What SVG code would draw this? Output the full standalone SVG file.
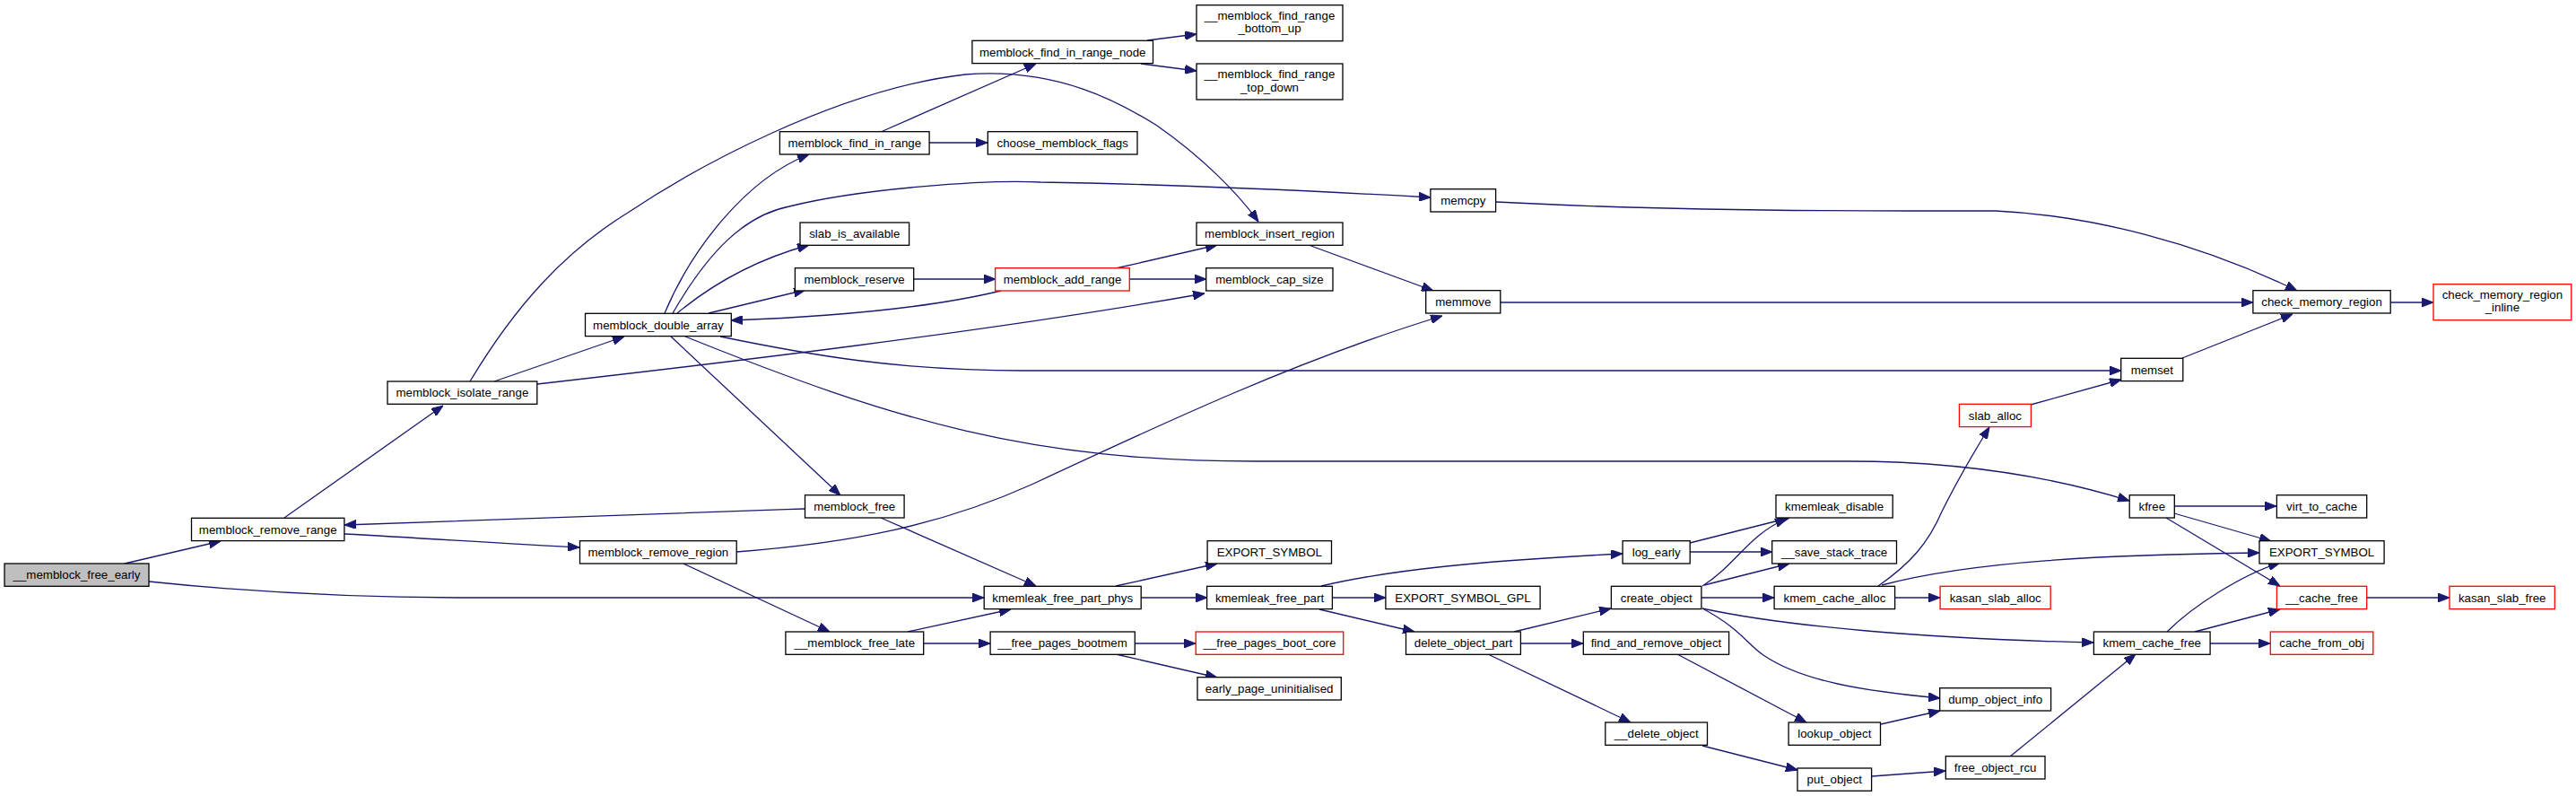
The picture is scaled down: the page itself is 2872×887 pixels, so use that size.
<svg xmlns="http://www.w3.org/2000/svg" width="2872" height="887" viewBox="0 0 2872 887">
<style>
.n rect{fill:#fff;stroke:#000;stroke-width:1.3}
.n.r rect{stroke:#f00}
.n.g rect{fill:#bfbfbf}
.n text{font-family:"Liberation Sans",Arial,sans-serif;font-size:13.3px;text-anchor:middle;fill:#000}
#edges path{fill:none;stroke:#191970;stroke-width:1.3;marker-end:url(#a)}
</style>
<defs>
<marker id="a" viewBox="0 0 13 10" refX="13" refY="5" markerWidth="13" markerHeight="10" markerUnits="userSpaceOnUse" orient="auto">
<path d="M0,0 L13,5 L0,10 z" fill="#191970" stroke="#191970" stroke-width="1"/>
</marker>
</defs>
<rect width="2872" height="887" fill="#fff"/>
<g id="edges">
<path d="M139,628 L246,603"/>
<path d="M166,648 C300,662 420,666 520,666 L1097,666"/>
<path d="M317,577 L494,452"/>
<path d="M384,595 C480,600 560,606 646,610"/>
<path d="M551,425 L696,375"/>
<path d="M524,425 C575,340 630,280 700,237 C770,190 930,100 1076,83 C1180,75 1250,115 1290,140 C1340,175 1380,215 1403,247"/>
<path d="M599,428 C800,405 1100,370 1343,327"/>
<path d="M741,349 C770,280 830,200 902,172"/>
<path d="M750,349 C790,280 830,240 880,230 C960,210 1100,200 1160,203 C1300,205 1450,212 1595,220"/>
<path d="M755,349 C790,320 840,290 902,273"/>
<path d="M790,349 L898,323"/>
<path d="M803,375 C900,395 1000,413 1140,413 L2365,413"/>
<path d="M764,375 C1000,470 1150,514 1400,514 L2060,514 C2200,514 2300,535 2374,558"/>
<path d="M748,375 L937,552"/>
<path d="M1019,311 L1110,311"/>
<path d="M1116,324 C1050,340 950,352 815,357"/>
<path d="M1244,299 L1357,273"/>
<path d="M1259,311 L1345,311"/>
<path d="M982,147 L1155,71"/>
<path d="M1036,159 L1101,159"/>
<path d="M1279,45 L1334,38"/>
<path d="M1272,71 L1334,79"/>
<path d="M1459,273 L1598,324"/>
<path d="M1668,225 C1800,232 1950,235 2130,235 L2225,235 C2330,240 2450,270 2561,324"/>
<path d="M1673,337 L2512,337"/>
<path d="M2433,399 L2556,350"/>
<path d="M2665,337 L2713,337"/>
<path d="M897,567 C700,573 500,580 384,585"/>
<path d="M982,577 L1155,653"/>
<path d="M821,615 C950,605 1050,585 1150,540 C1300,470 1450,400 1608,352"/>
<path d="M762,628 L925,704"/>
<path d="M1012,704 L1127,679"/>
<path d="M1030,717 L1104,717"/>
<path d="M1265,717 L1333,717"/>
<path d="M1244,729 L1357,755"/>
<path d="M1244,653 L1357,628"/>
<path d="M1272,666 L1346,666"/>
<path d="M1473,653 C1550,635 1650,625 1809,617"/>
<path d="M1485,666 L1545,666"/>
<path d="M1471,679 L1577,704"/>
<path d="M1884,605 L1995,577"/>
<path d="M1884,615 L1976,615"/>
<path d="M1898,653 C1935,630 1950,595 1992,578"/>
<path d="M1900,652 L1995,628"/>
<path d="M1897,666 L1978,666"/>
<path d="M1898,678 C1990,698 2150,712 2334,716"/>
<path d="M1898,678 C1940,700 1950,720 1966,730 C2010,760 2080,770 2163,778"/>
<path d="M1688,704 L1796,678"/>
<path d="M1695,717 L1765,717"/>
<path d="M1659,729 L1818,805"/>
<path d="M1870,729 L2014,805"/>
<path d="M2097,807 L2163,792"/>
<path d="M1898,831 L2004,858"/>
<path d="M2087,865 L2169,859"/>
<path d="M2241,843 L2381,729"/>
<path d="M2094,653 C2130,628 2150,605 2165,570 C2185,530 2200,505 2218,476"/>
<path d="M2098,652 C2200,625 2350,618 2519,616"/>
<path d="M2113,666 L2163,666"/>
<path d="M2264,451 L2365,423"/>
<path d="M2424,564 L2538,564"/>
<path d="M2424,572 L2532,603"/>
<path d="M2415,577 L2542,653"/>
<path d="M2416,704 C2445,675 2500,640 2542,627"/>
<path d="M2447,704 L2542,679"/>
<path d="M2464,717 L2531,717"/>
<path d="M2639,666 L2731,666"/>
</g>
<g id="n_free_early" class="n g"><rect x="5" y="628" width="161" height="25.3"/><text x="85.5" y="645.2">__memblock_free_early</text></g>
<g id="n_remove_range" class="n"><rect x="213.5" y="577.3" width="170.4" height="25.3"/><text x="298.7" y="594.5">memblock_remove_range</text></g>
<g id="n_isolate_range" class="n"><rect x="432" y="425" width="166.8" height="25.3"/><text x="515.4" y="442.2">memblock_isolate_range</text></g>
<g id="n_remove_region" class="n"><rect x="646.5" y="602.7" width="174.7" height="25.3"/><text x="733.9" y="619.9">memblock_remove_region</text></g>
<g id="n_double_array" class="n"><rect x="652.5" y="349.3" width="162.8" height="25.3"/><text x="733.9" y="366.5">memblock_double_array</text></g>
<g id="n_find_in_range" class="n"><rect x="869.4" y="146.7" width="166.7" height="25.3"/><text x="952.8" y="163.9">memblock_find_in_range</text></g>
<g id="n_slab_is_available" class="n"><rect x="892" y="248" width="121.6" height="25.3"/><text x="952.8" y="265.2">slab_is_available</text></g>
<g id="n_reserve" class="n"><rect x="886.4" y="298.7" width="132.3" height="25.3"/><text x="952.6" y="315.9">memblock_reserve</text></g>
<g id="n_memblock_free" class="n"><rect x="897.5" y="551.7" width="110.6" height="25.3"/><text x="952.8" y="568.9">memblock_free</text></g>
<g id="n_free_late" class="n"><rect x="875.9" y="704" width="153.8" height="25.3"/><text x="952.8" y="721.2">__memblock_free_late</text></g>
<g id="n_find_in_range_node" class="n"><rect x="1083.9" y="45.3" width="201.6" height="25.3"/><text x="1184.7" y="62.5">memblock_find_in_range_node</text></g>
<g id="n_choose_flags" class="n"><rect x="1101.3" y="146.7" width="166.7" height="25.3"/><text x="1184.7" y="163.9">choose_memblock_flags</text></g>
<g id="n_add_range" class="n r"><rect x="1109.6" y="298.7" width="149.7" height="25.3"/><text x="1184.5" y="315.9">memblock_add_range</text></g>
<g id="n_kmemleak_free_part_phys" class="n"><rect x="1097.2" y="653.3" width="175" height="25.3"/><text x="1184.7" y="670.5">kmemleak_free_part_phys</text></g>
<g id="n_free_pages_bootmem" class="n"><rect x="1104.1" y="704" width="161.2" height="25.3"/><text x="1184.7" y="721.2">__free_pages_bootmem</text></g>
<g id="n_bottom_up" class="n"><rect x="1334" y="5.7" width="163" height="40"/><text x="1415.5" y="21.7">__memblock_find_range</text><text x="1415.5" y="36.2">_bottom_up</text></g>
<g id="n_top_down" class="n"><rect x="1334" y="71" width="163" height="40"/><text x="1415.5" y="87">__memblock_find_range</text><text x="1415.5" y="101.5">_top_down</text></g>
<g id="n_insert_region" class="n"><rect x="1334" y="248" width="163" height="25.3"/><text x="1415.5" y="265.2">memblock_insert_region</text></g>
<g id="n_cap_size" class="n"><rect x="1344.7" y="298.7" width="141.3" height="25.3"/><text x="1415.4" y="315.9">memblock_cap_size</text></g>
<g id="n_export1" class="n"><rect x="1346.1" y="602.7" width="138.4" height="25.3"/><text x="1415.3" y="619.9">EXPORT_SYMBOL</text></g>
<g id="n_kmemleak_free_part" class="n"><rect x="1345.6" y="653.3" width="139.8" height="25.3"/><text x="1415.5" y="670.5">kmemleak_free_part</text></g>
<g id="n_free_pages_boot_core" class="n r"><rect x="1333.2" y="704" width="164.5" height="25.3"/><text x="1415.5" y="721.2">__free_pages_boot_core</text></g>
<g id="n_early_page_uninit" class="n"><rect x="1335" y="754.7" width="160.3" height="25.3"/><text x="1415.2" y="771.9">early_page_uninitialised</text></g>
<g id="n_memcpy" class="n"><rect x="1594.9" y="210.7" width="72.7" height="25.3"/><text x="1631.3" y="227.9">memcpy</text></g>
<g id="n_memmove" class="n"><rect x="1589.7" y="323.7" width="83.1" height="25.3"/><text x="1631.3" y="340.9">memmove</text></g>
<g id="n_export_gpl" class="n"><rect x="1544.9" y="653.3" width="172.2" height="25.3"/><text x="1631" y="670.5">EXPORT_SYMBOL_GPL</text></g>
<g id="n_delete_object_part" class="n"><rect x="1567.5" y="704" width="127.9" height="25.3"/><text x="1631.5" y="721.2">delete_object_part</text></g>
<g id="n_log_early" class="n"><rect x="1809.1" y="602.7" width="75.1" height="25.3"/><text x="1846.7" y="619.9">log_early</text></g>
<g id="n_create_object" class="n"><rect x="1796.4" y="653.3" width="100.5" height="25.3"/><text x="1846.7" y="670.5">create_object</text></g>
<g id="n_find_and_remove" class="n"><rect x="1765.3" y="704" width="162.3" height="25.3"/><text x="1846.5" y="721.2">find_and_remove_object</text></g>
<g id="n_delete_object" class="n"><rect x="1789.8" y="805" width="113.7" height="25.3"/><text x="1846.7" y="822.2">__delete_object</text></g>
<g id="n_kmemleak_disable" class="n"><rect x="1980" y="551.7" width="130.2" height="25.3"/><text x="2045.1" y="568.9">kmemleak_disable</text></g>
<g id="n_save_stack" class="n"><rect x="1975.7" y="602.7" width="138.8" height="25.3"/><text x="2045.1" y="619.9">__save_stack_trace</text></g>
<g id="n_kmem_cache_alloc" class="n"><rect x="1978.1" y="653.3" width="134.5" height="25.3"/><text x="2045.4" y="670.5">kmem_cache_alloc</text></g>
<g id="n_lookup_object" class="n"><rect x="1994.1" y="805" width="102.4" height="25.3"/><text x="2045.3" y="822.2">lookup_object</text></g>
<g id="n_put_object" class="n"><rect x="2004" y="856" width="82.6" height="25.3"/><text x="2045.3" y="873.2">put_object</text></g>
<g id="n_slab_alloc" class="n r"><rect x="2184.4" y="450.3" width="80" height="25.3"/><text x="2224.4" y="467.5">slab_alloc</text></g>
<g id="n_kasan_slab_alloc" class="n r"><rect x="2163.1" y="653.3" width="123.1" height="25.3"/><text x="2224.7" y="670.5">kasan_slab_alloc</text></g>
<g id="n_dump_object_info" class="n"><rect x="2162.7" y="766.7" width="123.9" height="25.3"/><text x="2224.7" y="783.9">dump_object_info</text></g>
<g id="n_free_object_rcu" class="n"><rect x="2169.3" y="842.7" width="110.7" height="25.3"/><text x="2224.7" y="859.9">free_object_rcu</text></g>
<g id="n_memset" class="n"><rect x="2364.7" y="399.3" width="69.1" height="25.3"/><text x="2399.3" y="416.5">memset</text></g>
<g id="n_kfree" class="n"><rect x="2374.2" y="551.7" width="50.1" height="25.3"/><text x="2399.3" y="568.9">kfree</text></g>
<g id="n_kmem_cache_free" class="n"><rect x="2334.4" y="704" width="129.7" height="25.3"/><text x="2399.3" y="721.2">kmem_cache_free</text></g>
<g id="n_check_memory_region" class="n"><rect x="2511.9" y="323.7" width="153.3" height="25.3"/><text x="2588.6" y="340.9">check_memory_region</text></g>
<g id="n_virt_to_cache" class="n"><rect x="2538.4" y="551.7" width="100.3" height="25.3"/><text x="2588.6" y="568.9">virt_to_cache</text></g>
<g id="n_export2" class="n"><rect x="2519" y="602.7" width="139.1" height="25.3"/><text x="2588.6" y="619.9">EXPORT_SYMBOL</text></g>
<g id="n_cache_free" class="n r"><rect x="2538.4" y="653.3" width="100.3" height="25.3"/><text x="2588.6" y="670.5">__cache_free</text></g>
<g id="n_cache_from_obj" class="n r"><rect x="2531.3" y="704" width="114.5" height="25.3"/><text x="2588.6" y="721.2">cache_from_obj</text></g>
<g id="n_cmr_inline" class="n r"><rect x="2713" y="316.7" width="153.8" height="40"/><text x="2789.9" y="332.7">check_memory_region</text><text x="2789.9" y="347.2">_inline</text></g>
<g id="n_kasan_slab_free" class="n r"><rect x="2731" y="653.3" width="117.3" height="25.3"/><text x="2789.7" y="670.5">kasan_slab_free</text></g>
</svg>
